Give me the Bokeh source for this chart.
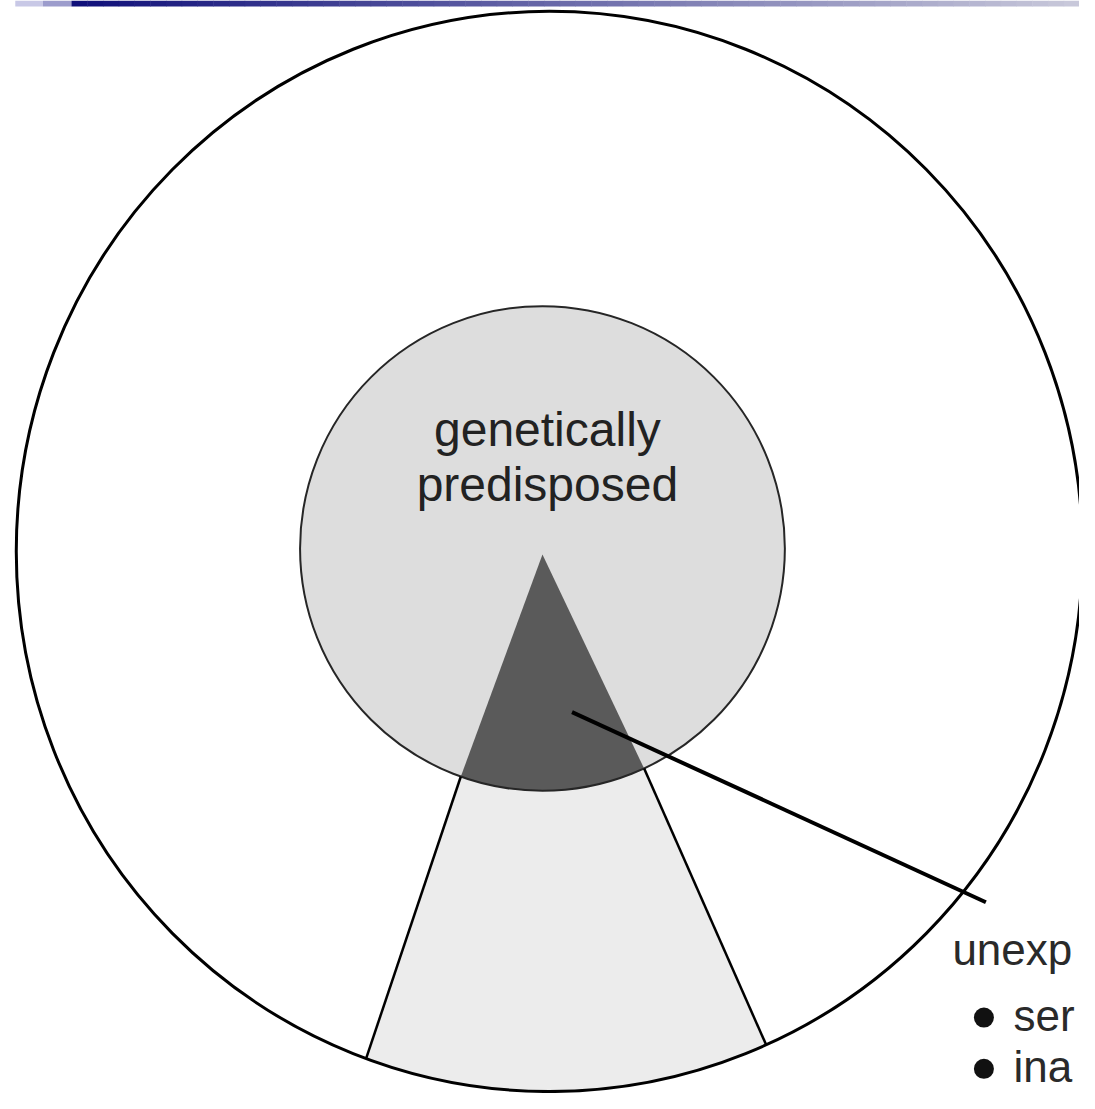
import numpy as np
from bokeh.plotting import figure
from bokeh.models import Range1d
from bokeh.embed import file_html
from bokeh.resources import INLINE
from bokeh.core.properties import value

# ---- data (reference-image pixel coordinates, y grows downward) ----
outer_center = [557, 559]
outer_radii = [541, 548]
inner_center = [550, 556]
inner_radius = 246
apex = [550, 562]
wedge_angles_deg = [109.7, 65.2]      # where the dark wedge meets the inner circle
wedge_outer_x = [371, 777]            # where the band edges meet the outer circle
pointer_start = [580, 722]
pointer_end = [1000, 915]
center_labels = ["genetically", "predisposed"]
center_label_x = [555, 555]
center_label_y = [452, 508]           # baselines
side_labels = ["unexp", "ser", "ina"]
side_label_x = [966, 1028, 1028]
side_label_y = [978, 1045, 1097]      # baselines
bullet_x = [998, 998]
bullet_y = [1032, 1084]

# header bar of the slide (decoration)
bar_blocks_x = [15, 43, 72]
bar_blocks_color = ["#c8c8e6", "#9c9ccc"]
bar_grad_start = (16, 16, 122)
bar_grad_end = (200, 200, 218)

BASELINE_FIX = 17   # renderer places alphabetic baselines ~17px low at 48px

# ---- geometry derived from the parameters ----
cx, cy = inner_center
r = inner_radius
tL, tR = np.radians(wedge_angles_deg)
t_arc = np.linspace(tL, tR, 60)
arc_x = cx + r * np.cos(t_arc)
arc_y = cy + r * np.sin(t_arc)

ocx, ocy = outer_center
rx, ry = outer_radii
ox = np.array(wedge_outer_x, dtype=float)
oy = ocy + ry * np.sqrt(1 - ((ox - ocx) / rx) ** 2)
to = np.arctan2((oy - ocy) / ry, (ox - ocx) / rx)
t_out = np.linspace(to[0], to[1], 60)
oarc_x = ocx + rx * np.cos(t_out)
oarc_y = ocy + ry * np.sin(t_out)

dark_x = np.concatenate([[apex[0]], arc_x])
dark_y = np.concatenate([[apex[1]], arc_y])

band_x = np.concatenate([[arc_x[0]], oarc_x, [arc_x[-1]], arc_x[::-1]])
band_y = np.concatenate([[arc_y[0]], oarc_y, [arc_y[-1]], arc_y[::-1]])

# ---- figure ----
p = figure(width=1079, height=1093, output_backend="svg", toolbar_location=None,
           x_range=Range1d(0, 1095), y_range=Range1d(1109, 0),
           min_border=0, outline_line_color=None)
p.xaxis.visible = False
p.yaxis.visible = False
p.grid.visible = False
p.background_fill_color = "white"
p.border_fill_color = "white"

# header bar
p.quad(left=bar_blocks_x[:-1], right=bar_blocks_x[1:], top=[0, 0], bottom=[6, 6],
       fill_color=bar_blocks_color, line_color=None)
n = 64
edges = np.linspace(bar_blocks_x[-1], 1095, n + 1)
tt = np.linspace(0, 1, n)
cols = ["#%02x%02x%02x" % tuple(int(round(a + (b - a) * t)) for a, b in zip(bar_grad_start, bar_grad_end)) for t in tt]
p.quad(left=edges[:-1], right=edges[1:] + 0.5, top=[0] * n, bottom=[6] * n,
       fill_color=cols, line_color=None)

# light band between the circles
p.patch(band_x, band_y, fill_color="#ececec", line_color=None)

# inner circle fill
p.ellipse(x=[cx], y=[cy], width=[2 * r], height=[2 * r],
          fill_color="#dddddd", line_color=None)

# dark wedge inside inner circle
p.patch(dark_x, dark_y, fill_color="#5a5a5a", line_color=None)

# inner circle outline
p.ellipse(x=[cx], y=[cy], width=[2 * r], height=[2 * r],
          fill_color=None, line_color="#262626", line_width=2)

# band edge lines
p.segment(x0=[arc_x[0], arc_x[-1]], y0=[arc_y[0], arc_y[-1]],
          x1=list(ox), y1=list(oy), line_color="black", line_width=2.5)

# outer circle
p.ellipse(x=[ocx], y=[ocy], width=[2 * rx], height=[2 * ry],
          fill_color=None, line_color="black", line_width=3)

# pointer line
p.segment(x0=[pointer_start[0]], y0=[pointer_start[1]],
          x1=[pointer_end[0]], y1=[pointer_end[1]],
          line_color="black", line_width=4)

# labels
p.text(x=center_label_x, y=[v - BASELINE_FIX for v in center_label_y], text=center_labels,
       text_align="center", text_baseline="alphabetic",
       text_font=value("Liberation Sans"), text_font_size="48px",
       text_color="#222222")
p.text(x=side_label_x, y=[v - 15 for v in side_label_y], text=side_labels,
       text_align="left", text_baseline="alphabetic",
       text_font=value("Liberation Sans"), text_font_size="44px",
       text_color="#2a2a2a")
p.scatter(x=bullet_x, y=bullet_y, marker="circle", size=20,
          fill_color="#111111", line_color=None)

open("out.html", "w").write(file_html(p, INLINE))
